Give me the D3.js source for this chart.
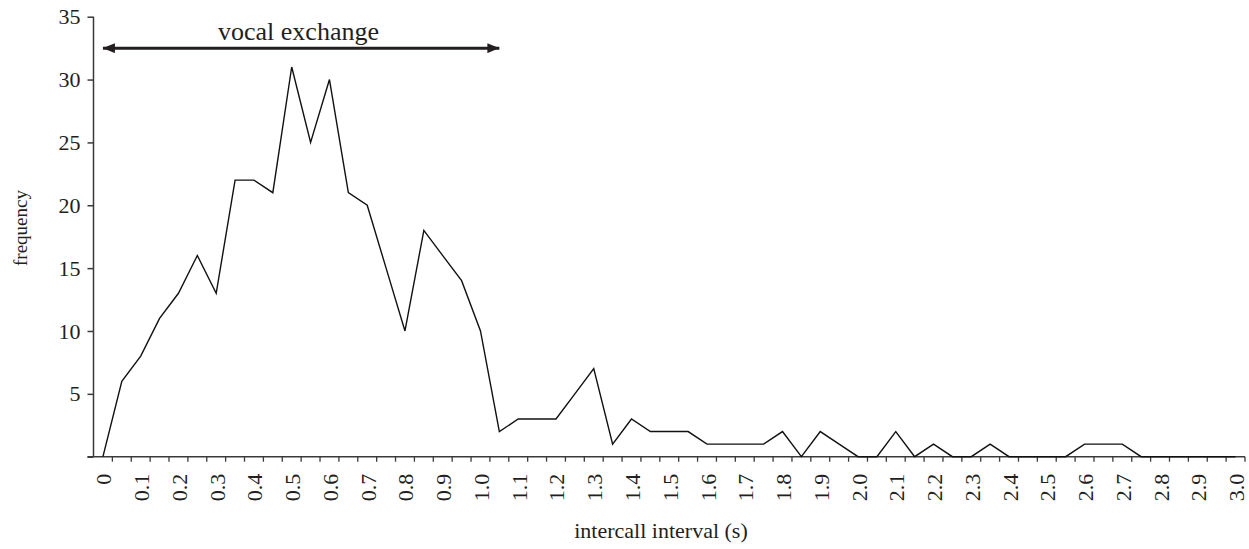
<!DOCTYPE html>
<html>
<head>
<meta charset="utf-8">
<script src="https://cdn.jsdelivr.net/npm/d3@7"></script>
<style>
  html, body { margin: 0; padding: 0; background: #fff; }
  svg { display: block; }
  text { font-family: "Liberation Serif", "Times New Roman", serif; fill: #231f20; }
</style>
</head>
<body>
<svg id="chart" width="1249" height="549"></svg>
<script>
// Intercall interval bins (s), one every 0.05 s
const intervals = d3.range(61).map(i => +(i * 0.05).toFixed(2));

// Frequency of calls per bin
const frequency = [
  0, 6, 8, 11, 13, 16, 13, 22, 22, 21,
  31, 25, 30, 21, 20, 15, 10, 18, 16, 14,
  10, 2, 3, 3, 3, 5, 7, 1, 3, 2,
  2, 2, 1, 1, 1, 1, 2, 0, 2, 1,
  0, 0, 2, 0, 1, 0, 0, 1, 0, 0,
  0, 0, 1, 1, 1, 0, 0, 0, 0, 0, 0
];

// Labels shown on every second bin
const xTickLabels = ["0", "0.1", "0.2", "0.3", "0.4", "0.5", "0.6", "0.7", "0.8", "0.9",
  "1.0", "1.1", "1.2", "1.3", "1.4", "1.5", "1.6", "1.7", "1.8", "1.9",
  "2.0", "2.1", "2.2", "2.3", "2.4", "2.5", "2.6", "2.7", "2.8", "2.9", "3.0"];
const yTicks = [0, 5, 10, 15, 20, 25, 30, 35];

// Span of the "vocal exchange" annotation (s) and its height
const exchangeSpan = [0, 1.05];
const exchangeLevel = 32.5;

const svg = d3.select("#chart");
const axisColor = "#3a3a3a";

const x = d3.scaleBand()
  .domain(intervals)
  .range([93.5, 1245])
  .paddingInner(0)
  .paddingOuter(0);
const cx = v => x(v) + x.bandwidth() / 2;

const y = d3.scaleLinear().domain([0, 35]).range([456.7, 16.7]);

// Y axis
const yAxis = svg.append("g")
  .attr("transform", `translate(${x.range()[0]},0)`)
  .call(d3.axisLeft(y).tickValues(yTicks).tickSize(6).tickFormat(d => d === 0 ? "" : d));
yAxis.select(".domain").attr("stroke", axisColor).attr("stroke-width", 1.5).attr("d", `M0,${y(35)}V${y(0)}`);
yAxis.selectAll(".tick line").attr("stroke", axisColor).attr("stroke-width", 1.5);
yAxis.selectAll(".tick text")
  .attr("x", -13)
  .style("font-family", "Liberation Serif, serif")
  .style("font-size", "22px")
  .attr("fill", "#231f20");

// X axis: ticks sit on bin boundaries
const bounds = d3.range(intervals.length + 1).map(i => x.range()[0] + i * x.bandwidth());
const xAxis = svg.append("g");
xAxis.append("line")
  .attr("x1", x.range()[0] - 6).attr("x2", x.range()[1])
  .attr("y1", y(0)).attr("y2", y(0))
  .attr("stroke", axisColor).attr("stroke-width", 1.5);
xAxis.selectAll("line.tick")
  .data(bounds.slice(1))
  .join("line")
  .attr("class", "tick")
  .attr("x1", d => d).attr("x2", d => d)
  .attr("y1", y(0)).attr("y2", y(0) + 5)
  .attr("stroke", axisColor).attr("stroke-width", 1.3);

xAxis.selectAll("text.xl")
  .data(intervals.filter((d, i) => i % 2 === 0))
  .join("text")
  .attr("class", "xl")
  .attr("transform", d => `translate(${cx(d) + 1},${y(0) + 17}) rotate(-90)`)
  .attr("text-anchor", "end")
  .attr("dominant-baseline", "central")
  .style("font-size", "22px")
  .text((d, i) => xTickLabels[i]);

// Frequency line
const line = d3.line()
  .x((d, i) => cx(intervals[i]))
  .y(d => y(d));
svg.append("path")
  .datum(frequency)
  .attr("d", line)
  .attr("fill", "none")
  .attr("stroke", "#111")
  .attr("stroke-width", 1.4)
  .attr("stroke-linejoin", "miter");

// Double-headed arrow for the vocal exchange window
const defs = svg.append("defs");
defs.append("marker")
  .attr("id", "head")
  .attr("viewBox", "0 0 12 10")
  .attr("refX", 12).attr("refY", 5)
  .attr("markerUnits", "userSpaceOnUse")
  .attr("markerWidth", 12).attr("markerHeight", 10)
  .attr("orient", "auto-start-reverse")
  .append("path")
  .attr("d", "M0,0L12,5L0,10Z")
  .attr("fill", "#231f20");

const ax1 = cx(exchangeSpan[0]), ax2 = cx(exchangeSpan[1]);
svg.append("line")
  .attr("x1", ax1).attr("x2", ax2)
  .attr("y1", y(exchangeLevel)).attr("y2", y(exchangeLevel))
  .attr("stroke", "#231f20").attr("stroke-width", 3)
  .attr("marker-start", "url(#head)")
  .attr("marker-end", "url(#head)");

svg.append("text")
  .attr("x", 298.5)
  .attr("y", 40)
  .attr("text-anchor", "middle")
  .style("font-size", "26px")
  .text("vocal exchange");

// Axis titles
svg.append("text")
  .attr("x", 661)
  .attr("y", 538)
  .attr("text-anchor", "middle")
  .style("font-size", "22px")
  .text("intercall interval (s)");

svg.append("text")
  .attr("transform", "translate(27,228) rotate(-90)")
  .attr("text-anchor", "middle")
  .style("font-size", "19px")
  .text("frequency");
</script>
</body>
</html>
